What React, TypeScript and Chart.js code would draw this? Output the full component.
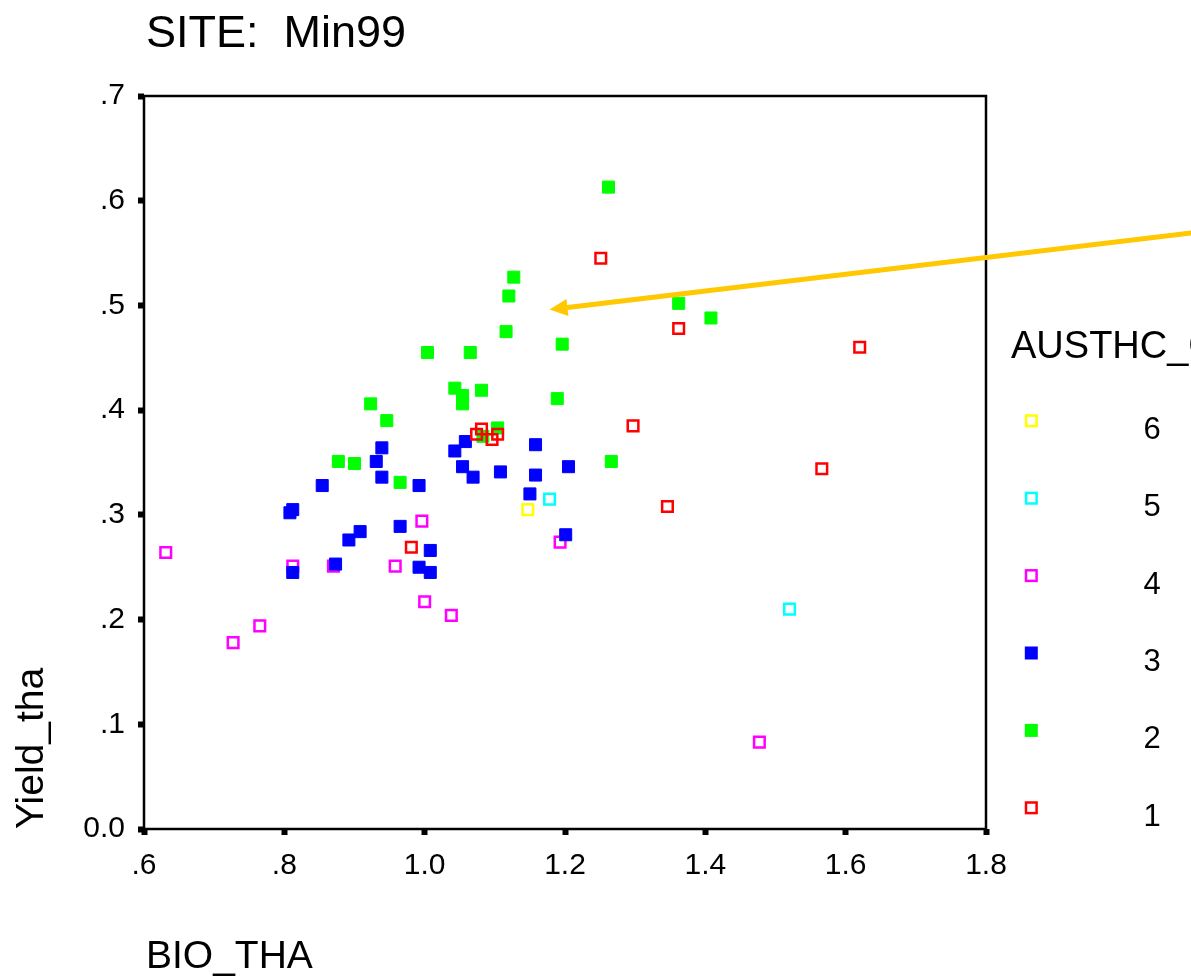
import React, { useEffect, useRef } from "react";
import { Chart, registerables } from "chart.js";

Chart.register(...registerables);

// ---- Data (BIO_THA = x, Yield_tha = y), grouped by AUSTHC class ----
const group1X = [1.251, 1.362, 1.620, 1.297, 1.566, 1.346, 1.081, 1.074, 1.104, 1.096, 0.981];
const group1Y = [0.545, 0.478, 0.460, 0.385, 0.344, 0.308, 0.382, 0.377, 0.377, 0.372, 0.269];

const group2X = [1.262, 1.127, 1.120, 1.116, 1.362, 1.408, 1.004, 1.065, 1.196, 1.043, 1.054, 1.054, 1.081, 1.189, 0.923, 0.946, 1.104, 1.083, 1.266, 0.877, 0.900, 0.965];
const group2Y = [0.613, 0.527, 0.509, 0.475, 0.502, 0.488, 0.455, 0.455, 0.463, 0.421, 0.414, 0.406, 0.419, 0.411, 0.406, 0.390, 0.383, 0.375, 0.351, 0.351, 0.349, 0.331];

const group3X = [0.939, 0.931, 0.939, 0.854, 0.992, 1.043, 1.058, 1.054, 1.069, 1.108, 1.158, 1.158, 1.205, 1.150, 0.812, 0.808, 0.908, 0.892, 0.965, 1.008, 1.201, 0.873, 0.812, 0.992, 1.008];
const group3Y = [0.364, 0.351, 0.336, 0.328, 0.328, 0.361, 0.370, 0.346, 0.336, 0.341, 0.367, 0.338, 0.346, 0.320, 0.305, 0.302, 0.284, 0.276, 0.289, 0.266, 0.281, 0.253, 0.245, 0.250, 0.245];

const group4X = [0.631, 0.727, 0.765, 0.812, 0.870, 0.958, 0.996, 1.000, 1.038, 1.193, 1.477];
const group4Y = [0.264, 0.178, 0.194, 0.251, 0.251, 0.251, 0.294, 0.217, 0.204, 0.274, 0.083];

const group5X = [1.178, 1.520];
const group5Y = [0.315, 0.210];

const group6X = [1.147];
const group6Y = [0.305];

const legendLabels = ["6", "5", "4", "3", "2", "1"];
const legendColors = ["#FFFF00", "#00FFFF", "#FF00FF", "#0000FF", "#00FF00", "#FF0000"];
const legendFilled = [false, false, false, true, true, false];

const titleText = "SITE:  Min99";
const xAxisTitle = "BIO_THA";
const yAxisTitle = "Yield_tha";
const legendTitle = "AUSTHC_GROUP";

// Annotation arrow in data coordinates (start -> tip)
const arrowFrom = { x: 2.103, y: 0.570 };
const arrowTo = { x: 1.178, y: 0.496 };

const FONT = "'Liberation Sans', Arial, Helvetica, sans-serif";

function zip(xs: number[], ys: number[]) {
  return xs.map((x, i) => ({ x, y: ys[i] }));
}

function fmt(v: number): string {
  const s = Number(v).toFixed(1);
  if (Math.abs(v) < 1e-9) return "0.0";
  return s.startsWith("0.") ? s.slice(1) : s;
}

function hollow(label: string, color: string, xs: number[], ys: number[]) {
  return {
    label,
    data: zip(xs, ys),
    pointStyle: "rect",
    pointRadius: 7.5,
    pointBorderWidth: 2.5,
    pointBorderColor: color,
    pointBackgroundColor: "rgba(0,0,0,0)",
    borderColor: color,
    backgroundColor: "rgba(0,0,0,0)",
  };
}

function filled(label: string, color: string, xs: number[], ys: number[]) {
  return {
    label,
    data: zip(xs, ys),
    pointStyle: "rect",
    pointRadius: 8.5,
    pointBorderWidth: 1,
    pointBorderColor: color,
    pointBackgroundColor: color,
    borderColor: color,
    backgroundColor: color,
  };
}

const decorPlugin = {
  id: "decor",
  beforeDatasetsDraw(chart: any) {
    const { ctx, chartArea } = chart;
    ctx.save();
    ctx.strokeStyle = "#000";
    ctx.lineWidth = 2.5;
    ctx.strokeRect(chartArea.left, chartArea.top, chartArea.right - chartArea.left, chartArea.bottom - chartArea.top);
    ctx.restore();
  },
  afterDatasetsDraw(chart: any) {
    const { ctx } = chart;
    const xs = chart.scales.x;
    const ys = chart.scales.y;
    const x1 = xs.getPixelForValue(arrowFrom.x);
    const y1 = ys.getPixelForValue(arrowFrom.y);
    const x2 = xs.getPixelForValue(arrowTo.x);
    const y2 = ys.getPixelForValue(arrowTo.y);
    const ang = Math.atan2(y2 - y1, x2 - x1);
    const headLen = 18;
    const headHalf = 8.5;
    const bx = x2 - headLen * Math.cos(ang);
    const by = y2 - headLen * Math.sin(ang);
    ctx.save();
    ctx.strokeStyle = "#FFC800";
    ctx.fillStyle = "#FFC800";
    ctx.lineWidth = 5;
    ctx.beginPath();
    ctx.moveTo(x1, y1);
    ctx.lineTo(bx + 2 * Math.cos(ang), by + 2 * Math.sin(ang));
    ctx.stroke();
    ctx.beginPath();
    ctx.moveTo(x2, y2);
    ctx.lineTo(bx - headHalf * Math.sin(ang), by + headHalf * Math.cos(ang));
    ctx.lineTo(bx + headHalf * Math.sin(ang), by - headHalf * Math.cos(ang));
    ctx.closePath();
    ctx.fill();
    ctx.restore();
  },
  afterDraw(chart: any) {
    const { ctx } = chart;
    ctx.save();
    ctx.fillStyle = "#000";
    ctx.textBaseline = "alphabetic";
    // Title
    ctx.font = `45px ${FONT}`;
    ctx.textAlign = "left";
    ctx.fillText(titleText, 146, 47);
    // X axis title
    ctx.font = `39px ${FONT}`;
    ctx.fillText(xAxisTitle, 146, 968);
    // Y axis title (rotated)
    ctx.save();
    ctx.translate(43, 829);
    ctx.rotate(-Math.PI / 2);
    ctx.textAlign = "left";
    ctx.fillText(yAxisTitle, 0, 0);
    ctx.restore();
    // Legend title
    ctx.font = `38px ${FONT}`;
    ctx.textAlign = "left";
    ctx.fillText(legendTitle, 1011, 358);
    // Legend entries
    const rowTop = 420.8;
    const rowStep = 77.4;
    const mx = 1031.3;
    legendLabels.forEach((lab, i) => {
      const cy = rowTop + i * rowStep;
      const c = legendColors[i];
      if (legendFilled[i]) {
        ctx.fillStyle = c;
        ctx.fillRect(mx - 6.5, cy - 6.5, 13, 13);
      } else {
        ctx.strokeStyle = c;
        ctx.lineWidth = 2.5;
        ctx.strokeRect(mx - 5.3, cy - 5.3, 10.6, 10.6);
      }
      ctx.fillStyle = "#000";
      ctx.font = `31px ${FONT}`;
      ctx.textAlign = "center";
      ctx.fillText(lab, 1152, cy + 18);
    });
    ctx.restore();
  },
};

export default function App() {
  const canvasRef = useRef<HTMLCanvasElement | null>(null);

  useEffect(() => {
    document.body.style.margin = "0";
    const canvas = canvasRef.current;
    if (!canvas) return;
    const chart = new Chart(canvas, {
      type: "scatter",
      data: {
        datasets: [
          hollow("1", "#FF0000", group1X, group1Y),
          filled("3", "#0000FF", group3X, group3Y),
          filled("2", "#00FF00", group2X, group2Y),
          hollow("4", "#FF00FF", group4X, group4Y),
          hollow("5", "#00FFFF", group5X, group5Y),
          hollow("6", "#FFFF00", group6X, group6Y),
        ] as any,
      },
      options: {
        animation: false,
        responsive: false,
        devicePixelRatio: 1,
        layout: { padding: { top: 96, right: 205, left: 0, bottom: 0 } },
        plugins: {
          legend: { display: false },
          title: { display: false },
          tooltip: { enabled: false },
        },
        scales: {
          x: {
            type: "linear",
            min: 0.6,
            max: 1.8,
            afterFit(scale: any) {
              scale.height = 148;
            },
            border: { display: false },
            grid: {
              display: true,
              drawOnChartArea: false,
              drawTicks: true,
              tickLength: 6,
              tickWidth: 6,
              tickColor: "#000",
            },
            ticks: {
              stepSize: 0.2,
              padding: 13,
              color: "#000",
              font: { family: FONT, size: 30 },
              maxRotation: 0,
              callback: (v: any) => fmt(Number(v)),
            },
          },
          y: {
            type: "linear",
            min: 0,
            max: 0.7,
            afterFit(scale: any) {
              scale.width = 144;
            },
            border: { display: false },
            grid: {
              display: true,
              drawOnChartArea: false,
              drawTicks: true,
              tickLength: 6,
              tickWidth: 6,
              tickColor: "#000",
            },
            ticks: {
              stepSize: 0.1,
              padding: 13,
              color: "#000",
              font: { family: FONT, size: 30 },
              callback: (v: any) => fmt(Number(v)),
            },
          },
        },
      } as any,
      plugins: [decorPlugin],
    });
    return () => chart.destroy();
  }, []);

  return (
    <div style={{ position: "absolute", left: 0, top: 0, width: 1191, height: 977, background: "#fff" }}>
      <canvas ref={canvasRef} width={1191} height={977} style={{ width: 1191, height: 977, display: "block" }} />
    </div>
  );
}
